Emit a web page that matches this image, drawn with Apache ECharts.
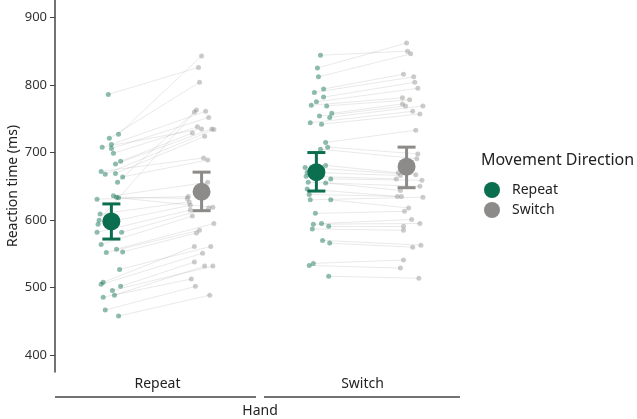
<!DOCTYPE html>
<html>
<head>
    <meta charset="utf-8">
    <title>Reaction time by hand and movement direction</title>
    <script src="https://cdn.jsdelivr.net/npm/echarts@6/dist/echarts.min.js"></script>
    <style>
        html, body { margin: 0; padding: 0; background: #fff; }
        #chart1 { width: 637px; height: 419px; }
    </style>
</head>
<body>
<div id="chart1"></div>
<script type="text/javascript">
    // categories
    var handNames = ['Repeat', 'Switch'];
    var moveNames = ['Repeat', 'Switch'];
    var yTicks = [400, 500, 600, 700, 800, 900];

    // Hand = Repeat, per participant (ms)
    var rhRepeat = [786, 727, 721, 712, 708, 706, 699, 687, 683, 672, 669, 668, 664, 656, 636, 634, 633, 631,
        609, 600, 594, 582, 582, 564, 557, 552, 553, 527, 508, 505, 502, 496, 489, 486, 467, 458];
    var rhSwitch = [826, 843, 804, 761, 735, 752, 738, 729, 735, 692, 724, 734, 689, 760, 656, 632, 619, 635,
        627, 763, 622, 615, 618, 606, 595, 585, 581, 561, 561, 551, 538, 532, 532, 513, 502, 489];
    // horizontal jitter of each dot (x units)
    var rhRepeatX = [0.52, 0.62, 0.53, 0.55, 0.46, 0.55, 0.57, 0.64, 0.59, 0.45, 0.59, 0.49, 0.66, 0.61, 0.57, 0.60, 0.62, 0.41,
        0.44, 0.43, 0.42, 0.41, 0.65, 0.45, 0.60, 0.50, 0.66, 0.63, 0.47, 0.45, 0.64, 0.56, 0.58, 0.47, 0.49, 0.62];
    var rhSwitchX = [1.40, 1.43, 1.41, 1.47, 1.43, 1.50, 1.39, 1.34, 1.53, 1.45, 1.46, 1.55, 1.49, 1.36, 1.49, 1.29, 1.54, 1.30,
        1.31, 1.38, 1.32, 1.32, 1.50, 1.34, 1.55, 1.41, 1.38, 1.52, 1.36, 1.44, 1.36, 1.54, 1.46, 1.33, 1.37, 1.51];

    // Hand = Switch
    var shRepeat = [844, 825, 812, 794, 789, 782, 775, 770, 769, 758, 754, 752, 744, 742, 715, 708, 705, 681, 678,
        671, 665, 661, 656, 655, 646, 638, 630, 630, 610, 595, 594, 591, 587, 570, 566, 536, 533, 517];
    var shSwitch = [850, 862, 846, 816, 812, 804, 795, 781, 778, 772, 769, 769, 761, 757, 733, 698, 691, 670, 667,
        666, 661, 659, 650, 644, 635, 635, 634, 618, 613, 601, 595, 591, 585, 563, 560, 541, 529, 514];
    var shRepeatX = [2.59, 2.56, 2.57, 2.62, 2.53, 2.62, 2.55, 2.50, 2.65, 2.70, 2.58, 2.68, 2.49, 2.60, 2.64, 2.66, 2.59, 2.64, 2.44,
        2.46, 2.45, 2.69, 2.47, 2.64, 2.46, 2.48, 2.49, 2.69, 2.54, 2.60, 2.52, 2.67, 2.51, 2.61, 2.68, 2.52, 2.48, 2.67];
    var shSwitchX = [3.44, 3.43, 3.47, 3.40, 3.50, 3.51, 3.54, 3.39, 3.46, 3.39, 3.42, 3.59, 3.49, 3.56, 3.52, 3.54, 3.53, 3.35, 3.52,
        3.37, 3.33, 3.58, 3.56, 3.37, 3.34, 3.38, 3.59, 3.45, 3.41, 3.48, 3.56, 3.40, 3.40, 3.57, 3.49, 3.40, 3.37, 3.55];

    // means and error bars, per hand [Repeat, Switch]
    var meanRepeatMove = [598, 671];
    var loRepeatMove = [572, 643];
    var hiRepeatMove = [624, 700];
    var meanSwitchMove = [642, 679];
    var loSwitchMove = [614, 648];
    var hiSwitchMove = [671, 708];

    var green = '#0b6e4f';
    var grey = '#8c8b89';
    var font = 'Noto Sans';

    var handPos = [1, 3];

    function pts(xs, ys) {
        return ys.map(function (v, i) { return [xs[i], v]; });
    }
    function segs(x1, y1, x2, y2) {
        return y1.map(function (v, i) { return { coords: [[x1[i], v], [x2[i], y2[i]]] }; });
    }

    var lineData = segs(rhRepeatX, rhRepeat, rhSwitchX, rhSwitch).concat(segs(shRepeatX, shRepeat, shSwitchX, shSwitch));
    var greenPts = pts(rhRepeatX, rhRepeat).concat(pts(shRepeatX, shRepeat));
    var greyPts = pts(rhSwitchX, rhSwitch).concat(pts(shSwitchX, shSwitch));

    var repeatMeans = handPos.map(function (p, i) { return [p - 0.45, meanRepeatMove[i], loRepeatMove[i], hiRepeatMove[i]]; });
    var switchMeans = handPos.map(function (p, i) { return [p + 0.43, meanSwitchMove[i], loSwitchMove[i], hiSwitchMove[i]]; });

    function errRender(color) {
        return function (params, api) {
            var x = api.value(0);
            var m = api.coord([x, api.value(1)]);
            var lo = api.coord([x, api.value(2)]);
            var hi = api.coord([x, api.value(3)]);
            var st = { stroke: color, lineWidth: 3, fill: null };
            return {
                type: 'group',
                children: [
                    { type: 'line', shape: { x1: lo[0], y1: lo[1], x2: hi[0], y2: hi[1] }, style: st },
                    { type: 'line', shape: { x1: lo[0] - 9, y1: lo[1], x2: lo[0] + 9, y2: lo[1] }, style: st },
                    { type: 'line', shape: { x1: hi[0] - 9, y1: hi[1], x2: hi[0] + 9, y2: hi[1] }, style: st },
                    { type: 'circle', shape: { cx: m[0], cy: m[1], r: 9 }, style: { fill: color } }
                ]
            };
        };
    }

    var myChart1 = echarts.init(document.getElementById('chart1'));
    myChart1.setOption({
        animation: false,
        textStyle: { fontFamily: font },
        grid: { left: 55, right: 172, top: 0, bottom: 47, outerBoundsMode: 'none', containLabel: false },
        xAxis: [
            { type: 'value', min: 0, max: 4, show: false },
            {
                type: 'category', data: handNames, position: 'bottom',
                axisLine: { show: false }, axisTick: { show: false },
                axisLabel: { color: '#222', fontSize: 14, margin: 5 },
                name: 'Hand', nameLocation: 'middle', nameGap: 32, nameMoveOverlap: false,
                nameTextStyle: { color: '#222', fontSize: 14 }
            }
        ],
        yAxis: {
            type: 'value', min: 375.3, max: 925.7,
            name: 'Reaction time (ms)', nameLocation: 'middle', nameGap: 35, nameMoveOverlap: false,
            nameTextStyle: { color: '#222', fontSize: 14 },
            axisLine: { show: true, lineStyle: { color: '#444', width: 1.5 } },
            axisTick: { show: true, length: 5, customValues: yTicks, lineStyle: { color: '#444' } },
            axisLabel: { customValues: yTicks, color: '#333', fontSize: 13, margin: 8 },
            splitLine: { show: false }
        },
        legend: {
            data: [{ name: 'Repeat', icon: 'circle' }, { name: 'Switch', icon: 'circle' }],
            orient: 'vertical', left: 479, top: 177,
            itemWidth: 16, itemHeight: 16, itemGap: 4,
            textStyle: { color: '#222', fontSize: 14, padding: [0, 0, 0, 7] }
        },
        graphic: [
            { type: 'text', left: 481, top: 152, style: { text: 'Movement Direction', fill: '#222', font: '16px "Noto Sans"' } },
            { type: 'line', shape: { x1: 55, y1: 397, x2: 256, y2: 397 }, style: { stroke: '#444', lineWidth: 1.5 } },
            { type: 'line', shape: { x1: 264, y1: 397, x2: 460, y2: 397 }, style: { stroke: '#444', lineWidth: 1.5 } }
        ],
        series: [
            {
                name: 'pairs', type: 'lines', coordinateSystem: 'cartesian2d',
                data: lineData, silent: true,
                lineStyle: { color: 'rgba(150,150,150,0.42)', width: 1 }
            },
            {
                name: 'pts-repeat', type: 'scatter', data: greenPts, symbolSize: 5,
                itemStyle: { color: 'rgba(11,110,79,0.58)' }
            },
            {
                name: 'pts-switch', type: 'scatter', data: greyPts, symbolSize: 5,
                itemStyle: { color: 'rgba(140,139,137,0.55)' }
            },
            {
                name: 'Repeat', type: 'custom', data: repeatMeans, renderItem: errRender(green),
                itemStyle: { color: green }, z: 5
            },
            {
                name: 'Switch', type: 'custom', data: switchMeans, renderItem: errRender(grey),
                itemStyle: { color: grey }, z: 5
            }
        ]
    });
</script>
</body>
</html>
